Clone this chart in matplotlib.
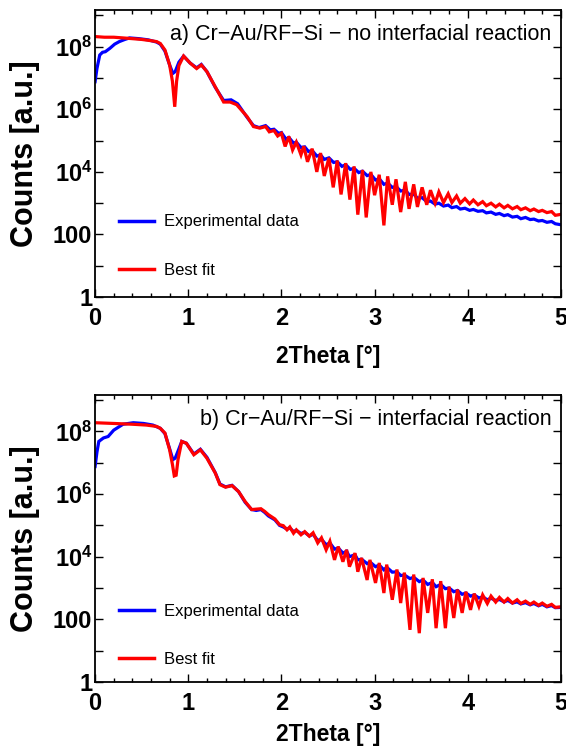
import matplotlib
matplotlib.use("Agg")
import matplotlib.pyplot as plt
from matplotlib.ticker import FixedLocator, MultipleLocator, FixedFormatter, NullLocator

plt.rcParams['font.family'] = ['Liberation Sans', 'DejaVu Sans']
plt.rcParams['mathtext.fontset'] = 'custom'
plt.rcParams['mathtext.rm'] = 'Liberation Sans:bold'
plt.rcParams['mathtext.bf'] = 'Liberation Sans:bold'
plt.rcParams['mathtext.default'] = 'bf'

# ---------------- data: panel a ----------------
a_fit_x = [0.00, 0.10, 0.20, 0.30, 0.40, 0.50, 0.60, 0.66, 0.70, 0.75, 0.80, 0.83, 0.855, 0.875, 0.90,
           0.95, 1.02, 1.09, 1.14, 1.20, 1.29, 1.38, 1.45, 1.52, 1.63, 1.70, 1.77,
           1.83, 1.87, 1.92, 1.96, 2.00, 2.04, 2.08, 2.12, 2.16, 2.21, 2.24, 2.28, 2.33, 2.38, 2.42, 2.46,
           2.51, 2.556, 2.60, 2.64, 2.69, 2.735, 2.78, 2.82, 2.87, 2.91, 2.96, 3.00, 3.05, 3.10, 3.14, 3.19,
           3.23, 3.28, 3.33, 3.37, 3.42, 3.46, 3.51, 3.56, 3.60, 3.65, 3.69, 3.74, 3.79, 3.83, 3.88, 3.92,
           3.97, 4.02, 4.06, 4.11, 4.16, 4.20, 4.25, 4.30, 4.34, 4.39, 4.43, 4.48, 4.53, 4.57, 4.62, 4.67,
           4.71, 4.76, 4.80, 4.85, 4.90, 4.94, 5.00]
a_fit_y = [2.1e8, 2.0e8, 2.0e8, 1.9e8, 1.8e8, 1.7e8, 1.55e8, 1.45e8, 1.26e8, 7.8e7, 2.6e7, 7.9e6, 1.2e6, 7.9e6, 2.5e7,
           5.0e7, 3.0e7, 2.0e7, 2.6e7, 1.6e7, 5.2e6, 1.7e6, 1.7e6, 1.4e6, 5.9e5, 2.8e5, 2.5e5,
           2.8e5, 1.9e5, 2.1e5, 1.4e5, 1.7e5, 6.5e4, 1.35e5, 5.0e4, 8.9e4, 3.5e4, 6.6e4, 2.1e4, 5.5e4, 1.0e4, 4.0e4, 7.4e3,
           2.8e4, 3.2e3, 2.3e4, 1.9e3, 1.9e4, 1.3e3, 1.5e4, 430, 1.15e4, 350, 1.0e4, 1.8e3, 8.1e3, 195, 7.2e3, 890,
           5.8e3, 520, 4.8e3, 660, 4.0e3, 760, 3.2e3, 890, 2.6e3, 1.0e3, 2.3e3, 1.05e3, 2.0e3, 1.05e3, 1.7e3, 1.0e3,
           1.4e3, 950, 1.26e3, 890, 1.12e3, 830, 1.0e3, 760, 930, 710, 850, 660, 780, 620, 710, 575,
           650, 540, 590, 500, 540, 410, 440]

a_exp_x = [0.00, 0.02, 0.05, 0.08, 0.11, 0.16, 0.21, 0.26, 0.32, 0.37, 0.47, 0.57, 0.66, 0.70, 0.75, 0.80,
           0.835, 0.86, 0.90, 0.95, 1.02, 1.09, 1.14, 1.20, 1.29, 1.38, 1.46, 1.53, 1.63, 1.70, 1.76,
           1.83, 1.88, 1.92, 1.97, 2.00, 2.05, 2.08, 2.13, 2.16, 2.21, 2.25, 2.29, 2.33, 2.38, 2.42, 2.46,
           2.51, 2.56, 2.60, 2.65, 2.69, 2.74, 2.78, 2.83, 2.87, 2.92, 2.96, 3.01, 3.05, 3.10, 3.14, 3.19,
           3.23, 3.28, 3.33, 3.37, 3.42, 3.46, 3.51, 3.56, 3.60, 3.65, 3.69, 3.74, 3.79, 3.83, 3.88, 3.92,
           3.97, 4.02, 4.06, 4.11, 4.16, 4.20, 4.25, 4.30, 4.34, 4.39, 4.43, 4.48, 4.53, 4.57, 4.62, 4.67,
           4.71, 4.76, 4.80, 4.85, 4.90, 4.94, 5.00]
a_exp_y = [7.6e6, 2.0e7, 5.4e7, 6.6e7, 6.9e7, 8.9e7, 1.2e8, 1.45e8, 1.7e8, 1.9e8, 1.8e8, 1.65e8, 1.4e8, 1.2e8, 7.2e7, 2.6e7,
           1.4e7, 1.6e7, 3.2e7, 5.0e7, 3.0e7, 2.1e7, 2.7e7, 1.6e7, 5.0e6, 1.9e6, 2.0e6, 1.5e6, 5.6e5, 3.0e5, 2.6e5,
           3.0e5, 2.2e5, 2.3e5, 1.7e5, 1.8e5, 1.1e5, 1.26e5, 8.3e4, 8.9e4, 6.0e4, 6.3e4, 4.5e4, 4.8e4, 3.2e4, 3.5e4, 2.5e4,
           2.8e4, 2.0e4, 2.1e4, 1.5e4, 1.7e4, 1.2e4, 1.3e4, 9.5e3, 1.05e4, 7.6e3, 8.3e3, 5.5e3, 6.0e3, 4.0e3, 4.4e3, 3.2e3,
           3.4e3, 2.45e3, 2.6e3, 1.9e3, 1.95e3, 1.45e3, 1.5e3, 1.12e3, 1.17e3, 930, 1.0e3, 810, 870, 720, 780, 650,
           690, 590, 630, 550, 575, 490, 520, 440, 470, 400, 430, 360, 380, 320, 350, 300,
           310, 270, 280, 245, 260, 220, 205]

# ---------------- data: panel b ----------------
b_fit_x = [0.00, 0.20, 0.40, 0.55, 0.66, 0.70, 0.75, 0.80, 0.83, 0.85, 0.87, 0.89, 0.93, 0.98, 1.06, 1.13,
           1.20, 1.29, 1.34, 1.40, 1.47, 1.54, 1.61, 1.68, 1.73, 1.78, 1.82, 1.86, 1.93, 1.98,
           2.02, 2.06, 2.09, 2.13, 2.16, 2.21, 2.25, 2.30, 2.34, 2.39, 2.43, 2.48, 2.52, 2.57, 2.61, 2.66,
           2.70, 2.73, 2.79, 2.82, 2.86, 2.92, 2.95, 3.01, 3.05, 3.10, 3.13, 3.19, 3.24, 3.28, 3.32, 3.38,
           3.42, 3.48, 3.52, 3.57, 3.62, 3.66, 3.71, 3.76, 3.80, 3.85, 3.89, 3.94, 3.98, 4.03, 4.07, 4.12,
           4.16, 4.21, 4.25, 4.30, 4.34, 4.39, 4.43, 4.48, 4.53, 4.57, 4.62, 4.67, 4.71, 4.76, 4.80, 4.85,
           4.90, 4.94, 5.00]
b_fit_y = [1.9e8, 1.8e8, 1.7e8, 1.6e8, 1.45e8, 1.26e8, 8.9e7, 2.6e7, 8.9e6, 3.8e6, 4.0e6, 1.26e7, 4.8e7, 4.2e7, 1.8e7, 2.6e7,
           1.4e7, 4.7e6, 2.0e6, 1.66e6, 1.86e6, 1.2e6, 5.8e5, 3.2e5, 3.3e5, 3.4e5, 2.8e5, 2.2e5, 1.6e5, 1.05e5,
           9.8e4, 7.2e4, 8.9e4, 5.6e4, 7.2e4, 5.0e4, 6.3e4, 4.5e4, 5.8e4, 2.75e4, 4.0e4, 1.66e4, 3.1e4, 7.9e3, 2.1e4, 6.9e3,
           1.66e4, 4.8e3, 1.3e4, 3.3e3, 9.1e3, 1.8e3, 7.9e3, 1.45e3, 6.3e3, 690, 5.6e3, 420, 3.9e3, 330, 3.1e3, 46,
           2.7e3, 36, 2.1e3, 160, 1.9e3, 52, 1.66e3, 52, 1.1e3, 110, 890, 160, 760, 200, 660, 260,
           600, 320, 550, 355, 500, 355, 460, 330, 420, 320, 380, 300, 355, 280, 330, 260,
           300, 240, 250]

b_exp_x = [0.00, 0.02, 0.04, 0.09, 0.14, 0.20, 0.30, 0.41, 0.52, 0.62, 0.70, 0.75, 0.80, 0.835, 0.86, 0.90,
           0.93, 0.98, 1.06, 1.13, 1.20, 1.29, 1.34, 1.40, 1.47, 1.54, 1.61, 1.68, 1.73, 1.78, 1.82, 1.86,
           1.93, 1.98,
           2.02, 2.06, 2.09, 2.13, 2.16, 2.21, 2.25, 2.30, 2.34, 2.39, 2.43, 2.48, 2.52, 2.57, 2.61, 2.66,
           2.70, 2.73, 2.79, 2.82, 2.86, 2.92, 2.95, 3.01, 3.05, 3.10, 3.13, 3.19, 3.24, 3.28, 3.32, 3.38,
           3.42, 3.48, 3.52, 3.57, 3.62, 3.66, 3.71, 3.76, 3.80, 3.85, 3.89, 3.94, 3.98, 4.03, 4.07, 4.12,
           4.16, 4.21, 4.25, 4.30, 4.34, 4.39, 4.43, 4.48, 4.53, 4.57, 4.62, 4.67, 4.71, 4.76, 4.80, 4.85,
           4.90, 4.94, 5.00]
b_exp_y = [7.6e6, 2.2e7, 4.8e7, 6.2e7, 6.9e7, 1.1e8, 1.7e8, 1.9e8, 1.8e8, 1.6e8, 1.26e8, 8.5e7, 2.8e7, 1.26e7, 1.4e7, 2.8e7,
           4.8e7, 4.2e7, 1.9e7, 2.7e7, 1.5e7, 4.8e6, 2.1e6, 1.7e6, 1.9e6, 1.2e6, 5.5e5, 3.2e5, 3.0e5, 3.2e5, 2.6e5, 2.0e5,
           1.5e5, 1.0e5,
           8.9e4, 7.6e4, 8.3e4, 6.3e4, 6.9e4, 5.5e4, 6.0e4, 4.6e4, 5.2e4, 3.3e4, 3.6e4, 2.4e4, 2.75e4, 1.74e4, 1.9e4, 1.3e4,
           1.5e4, 1.0e4, 1.15e4, 7.9e3, 8.3e3, 6.0e3, 6.8e3, 4.8e3, 5.4e3, 3.8e3, 4.6e3, 3.2e3, 3.3e3, 2.5e3, 2.6e3, 2.0e3,
           2.2e3, 1.6e3, 1.8e3, 1.3e3, 1.5e3, 1.1e3, 1.3e3, 950, 1.0e3, 760, 830, 630, 690, 550, 600, 480,
           520, 420, 470, 400, 430, 360, 400, 330, 360, 310, 340, 290, 320, 270, 300, 250,
           275, 235, 240]

titles = ["a) Cr\u2212Au/RF\u2212Si \u2212 no interfacial reaction",
          "b) Cr\u2212Au/RF\u2212Si \u2212 interfacial reaction"]
legend_labels = ["Experimental data", "Best fit"]
x_label = "2Theta [\u00b0]"
y_label = "Counts [a.u.]"
y_tick_vals = [1, 10, 100, 1e3, 1e4, 1e5, 1e6, 1e7, 1e8, 1e9]
y_tick_labels = ["1", "", "100", "", "10$^{4}$", "", "10$^{6}$", "", "10$^{8}$", ""]
x_tick_vals = [0, 1, 2, 3, 4, 5]

fig = plt.figure(figsize=(5.66, 7.56), dpi=100)
ax_a = fig.add_axes([0.168, 0.607, 0.823, 0.380])
ax_b = fig.add_axes([0.168, 0.098, 0.823, 0.380])

panels = [(ax_a, a_exp_x, a_exp_y, a_fit_x, a_fit_y, titles[0], 11, (0.02, 0.015)),
          (ax_b, b_exp_x, b_exp_y, b_fit_x, b_fit_y, titles[1], 6, (0.02, 0.0))]

for ax, ex, ey, fx, fy, title, xlpad, leg_anchor in panels:
    ax.plot(ex, ey, color='#0000ff', lw=2.3, label=legend_labels[0], solid_joinstyle='miter')
    ax.plot(fx, fy, color='#ff0000', lw=2.3, label=legend_labels[1], solid_joinstyle='miter')
    ax.set_yscale('log')
    ax.set_xlim(0, 5)
    ax.set_ylim(1, 1.5e9)
    ax.yaxis.set_major_locator(FixedLocator(y_tick_vals))
    ax.yaxis.set_major_formatter(FixedFormatter(y_tick_labels))
    ax.yaxis.set_minor_locator(NullLocator())
    ax.xaxis.set_major_locator(FixedLocator(x_tick_vals))
    ax.xaxis.set_minor_locator(MultipleLocator(0.2))
    ax.tick_params(which='both', direction='in', top=True, right=True, width=1.0)
    ax.tick_params(which='major', length=6, labelsize=17)
    ax.tick_params(axis='x', which='major', pad=7)
    ax.tick_params(axis='y', which='major', pad=2)
    ax.tick_params(which='minor', length=3)
    for lab in ax.get_xticklabels() + ax.get_yticklabels():
        lab.set_fontweight('bold')
    for sp in ax.spines.values():
        sp.set_linewidth(1.3)
    ax.set_xlabel(x_label, fontsize=16.5, fontweight='bold', labelpad=xlpad)
    ax.set_ylabel(y_label, fontsize=22, fontweight='bold', labelpad=9)
    ax.text(0.98, 0.915, title, transform=ax.transAxes, ha='right', va='center', fontsize=15.5)
    leg = ax.legend(loc='lower left', bbox_to_anchor=leg_anchor, frameon=False, fontsize=12,
                    handlelength=2.1, handletextpad=0.55, labelspacing=2.0)
    for h in leg.get_lines():
        h.set_linewidth(2.5)

fig.savefig("out.png", dpi=100)
